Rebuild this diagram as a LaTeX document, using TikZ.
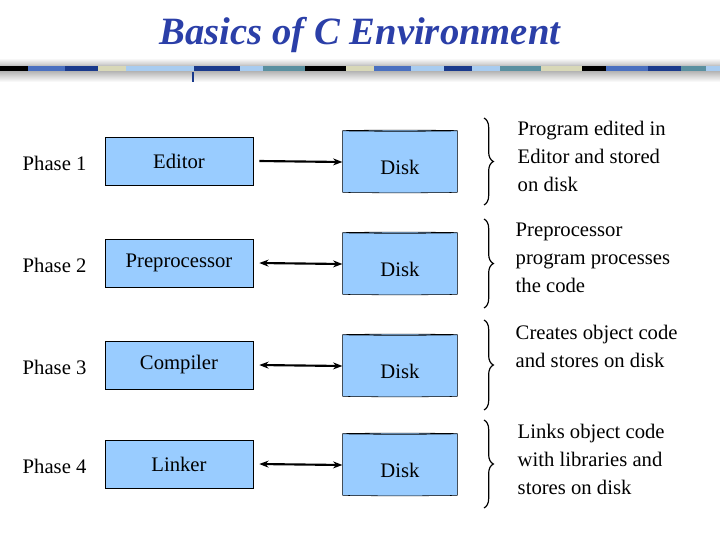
\documentclass[tikz,border=0pt]{standalone}
\usepackage{fontspec}
\setmainfont{Liberation Serif}
\usetikzlibrary{shapes.geometric,decorations.pathreplacing,arrows.meta}
\definecolor{boxblue}{HTML}{99CCFF}
\definecolor{ttl}{HTML}{2B3FA8}
\definecolor{sb}{HTML}{4A70C0}\definecolor{sn}{HTML}{1A3A8C}\definecolor{sl}{HTML}{A8CCF0}
\definecolor{st}{HTML}{5A90A0}\definecolor{se}{HTML}{D8D8B8}
\begin{document}
\begin{tikzpicture}[x=0.75pt,y=-0.75pt,
  box/.style={draw,fill=boxblue,minimum width=111pt,minimum height=36pt,font=\fontsize{15.5}{18}\selectfont,inner sep=0pt},
  disk/.style={draw,fill=boxblue,cylinder,shape border rotate=90,aspect=0.13,minimum width=86pt,minimum height=47pt,font=\fontsize{15.5}{18}\selectfont,cylinder uses custom fill,cylinder body fill=boxblue,cylinder end fill=boxblue!70!white},
  lab/.style={font=\fontsize{15.5}{18}\selectfont,anchor=west},
  desc/.style={font=\fontsize{15.5}{21}\selectfont,anchor=west,align=left},
  con/.style={line width=1.6pt,-{Stealth[length=7pt]}},
  con2/.style={line width=1.6pt,{Stealth[length=7pt]}-{Stealth[length=7pt]}},
  br/.style={decorate,decoration={brace,amplitude=7pt},line width=0.9pt}]
\useasboundingbox (0,0) rectangle (720,540);
\node[font=\bfseries\itshape\fontsize{29}{32}\selectfont,text=ttl] (title) at (360,35) {Basics of C Environment};
\shade[top color=white,bottom color=black!35,middle color=black!15] (0,58) rectangle (720,68);
\shade[top color=black!35,bottom color=white] (0,69) rectangle (720,82);
\foreach \a/\b/\c in {0/20/black,20/47/sb,47/71/sn,71/91/se,91/140/sl,140/173/sn,173/190/sl,190/220/st,220/250/black,250/270/se,270/297/sb,297/321/sl,321/341/sn,341/361/sl,361/391/st,391/420/se,420/438/black,438/468/sb,468/492/sn,492/510/st,510/520/sl}
  \fill[\c] ({\a/520*720},66) rectangle ({\b/520*720},71);
\draw[sn,line width=0.8pt] (193,72)--(193,82);
\foreach \y/\t/\n in {161/Editor/1,263/Preprocessor/2,365/Compiler/3,464/Linker/4}{
  \node[lab] (p\n) at (18,\y+2) {Phase \n};
  \node[box] (b\n) at (179,\y) {\t};
  \node[disk] (d\n) at (400,\y+1) {};
  \node[font=\fontsize{15.5}{18}\selectfont] (dl\n) at (400,\y+6) {Disk};
}
\draw[con] (b1.east)++(6,0) coordinate (s1) -- (d1.west);
\draw[con2] (b2.east)++(6,0) coordinate (s2) -- (d2.west);
\draw[con2] (b3.east)++(6,0) coordinate (s3) -- (d3.west);
\draw[con2] (b4.east)++(6,0) coordinate (s4) -- (d4.west);
\draw[br] (484,118) coordinate (ba1) -- (484,205) coordinate (bb1);
\draw[br] (484,219) coordinate (ba2) -- (484,308) coordinate (bb2);
\draw[br] (484,320) coordinate (ba3) -- (484,410) coordinate (bb3);
\draw[br] (484,420) coordinate (ba4) -- (484,508) coordinate (bb4);
\node[desc] (t1) at (513,156) {Program edited in\\Editor and stored\\on disk};
\node[desc] (t2) at (511,258) {Preprocessor\\program processes\\the code};
\node[desc] (t3) at (511,346) {Creates object code\\and stores on disk};
\node[desc] (t4) at (513,459) {Links object code\\with libraries and\\stores on disk};
\end{tikzpicture}
\end{document}
